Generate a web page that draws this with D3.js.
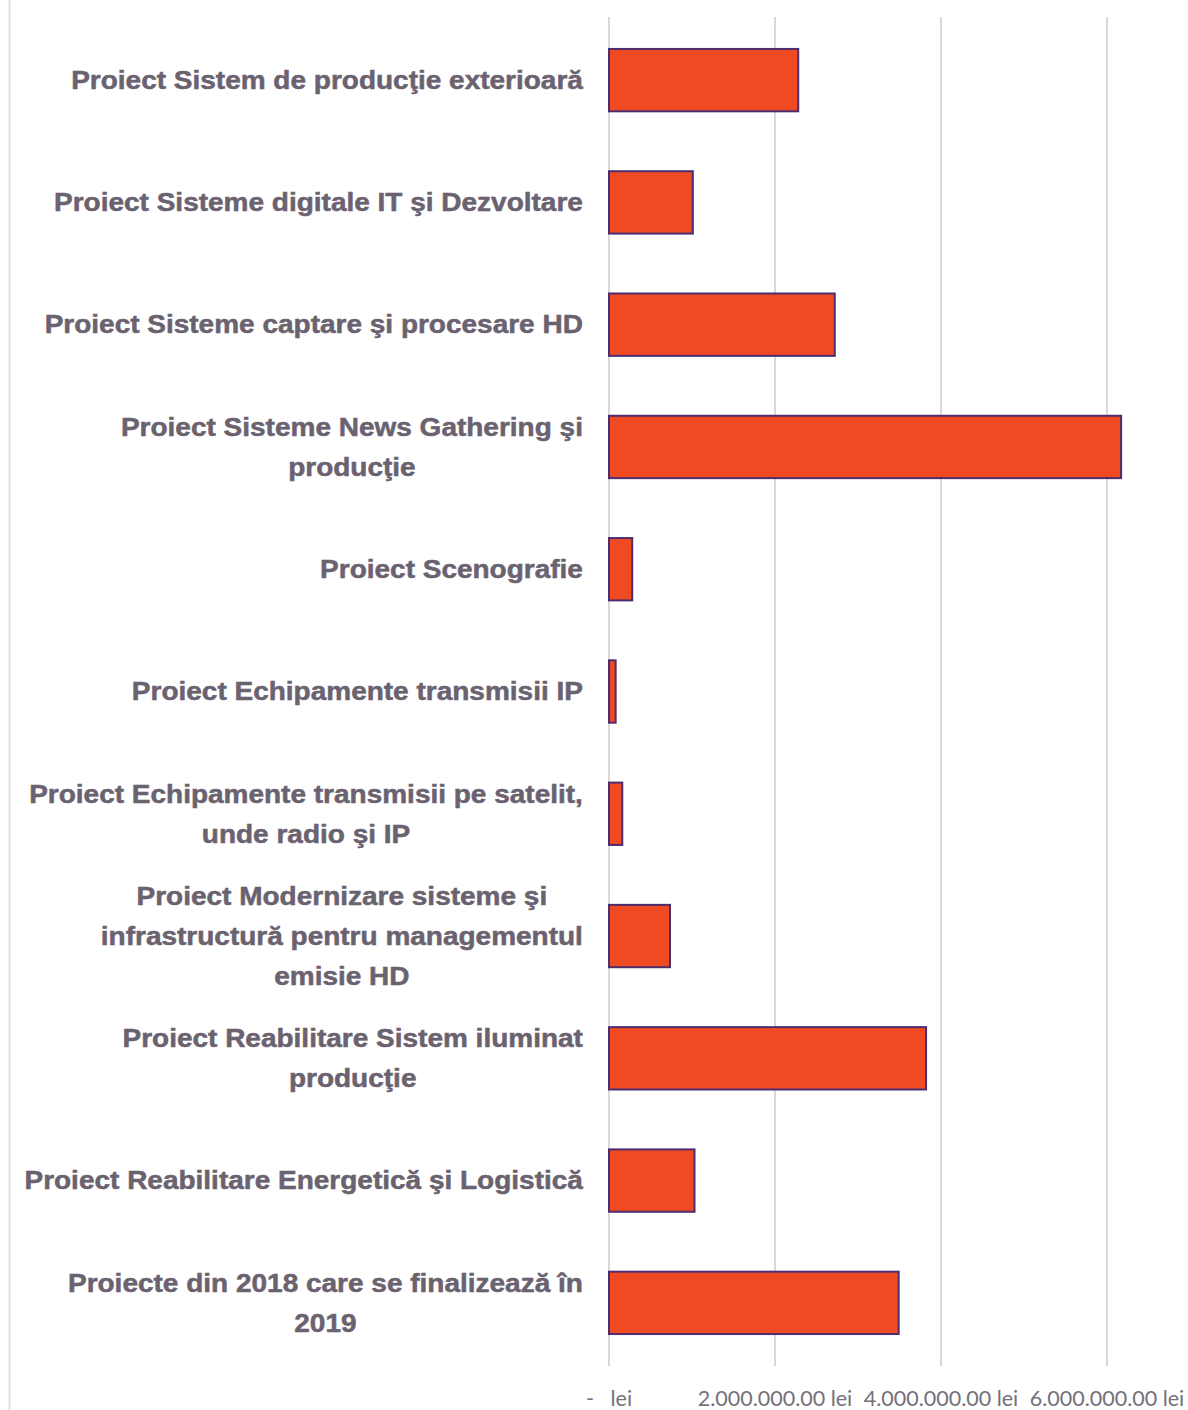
<!DOCTYPE html>
<html>
<head>
<meta charset="utf-8">
<script src="https://cdn.jsdelivr.net/npm/d3@7"></script>
<style>
  body { margin: 0; background: #fff; }
  svg { display: block; }
</style>
</head>
<body>
<svg id="chart" width="1188" height="1410"></svg>
<script>
// categories, one line break per "\n"
var categories = [
    "Proiect Sistem de producţie exterioară",
    "Proiect Sisteme digitale IT şi Dezvoltare",
    "Proiect Sisteme captare şi procesare HD",
    "Proiect Sisteme News Gathering şi\nproducţie",
    "Proiect Scenografie",
    "Proiect Echipamente transmisii IP",
    "Proiect Echipamente transmisii pe satelit,\nunde radio şi IP",
    "Proiect Modernizare sisteme şi\ninfrastructură pentru managementul\nemisie HD",
    "Proiect Reabilitare Sistem iluminat\nproducţie",
    "Proiect Reabilitare Energetică şi Logistică",
    "Proiecte din 2018 care se finalizează în\n2019"
];
var values = [2280000, 1010000, 2720000, 6170000, 280000, 80000, 160000, 735000, 3820000, 1030000, 3490000];
var tickValues = [0, 2000000, 4000000, 6000000];
var tickLabels = ["-   lei", "2.000.000.00 lei", "4.000.000.00 lei", "6.000.000.00 lei"];

var svg = d3.select("#chart");

var x = d3.scaleLinear()
    .domain([0, 6000000])
    .range([609, 1107]);

var y = d3.scaleBand()
    .domain(categories)
    .range([19, 1364])
    .paddingInner(0.49)
    .paddingOuter(0.245);

// left border line
svg.append("line")
    .attr("x1", 9.5).attr("x2", 9.5)
    .attr("y1", 0).attr("y2", 1410)
    .attr("stroke", "#e2e2e2")
    .attr("stroke-width", 2);

// gridlines
svg.append("g").selectAll("line")
    .data(tickValues)
    .enter().append("line")
    .attr("x1", function(d) { return x(d); })
    .attr("x2", function(d) { return x(d); })
    .attr("y1", 17)
    .attr("y2", 1366)
    .attr("stroke", "#d9d9d9")
    .attr("stroke-width", 2);

// tick labels
svg.append("g").selectAll("text")
    .data(tickValues)
    .enter().append("text")
    .attr("x", function(d) { return x(d); })
    .attr("y", 1406)
    .attr("text-anchor", "middle")
    .style("white-space", "pre")
    .style("font-family", "Lato, 'Open Sans', sans-serif")
    .style("font-size", "21.5px")
    .style("fill", "#75707a")
    .text(function(d, i) { return tickLabels[i]; });

// bars
svg.append("g").selectAll("rect")
    .data(values)
    .enter().append("rect")
    .attr("x", x(0))
    .attr("y", function(d, i) { return y(categories[i]); })
    .attr("width", function(d) { return x(d) - x(0); })
    .attr("height", y.bandwidth())
    .attr("fill", "#f04a23")
    .attr("stroke", "#4b2d70")
    .attr("stroke-width", 2);

// category labels: block right-aligned at 583, lines centred inside block
var labelRight = 583, lineGap = 40, stretch = 1.12;
var labels = svg.append("g").selectAll("g")
    .data(categories)
    .enter().append("g");

labels.each(function(c) {
    var g = d3.select(this);
    var lines = c.split("\n");
    var cy = y(c) + y.bandwidth() / 2;
    var t = g.append("text")
        .attr("text-anchor", "middle")
        .style("font-family", "'Liberation Sans', Arial, sans-serif")
        .style("font-weight", "bold")
        .style("font-size", "25px")
        .style("fill", "#6b6270")
        .style("stroke", "#6b6270")
        .style("stroke-width", 0.5);
    lines.forEach(function(l, i) {
        t.append("tspan")
            .attr("x", 0)
            .attr("y", (i - (lines.length - 1) / 2) * lineGap)
            .attr("dy", "0.35em")
            .text(l);
    });
    var w = 0;
    t.selectAll("tspan").each(function() { w = Math.max(w, this.getComputedTextLength()); });
    var cx = labelRight - w * stretch / 2;
    g.attr("transform", "translate(" + cx + "," + cy + ") scale(" + stretch + ",1)");
});
</script>
</body>
</html>
